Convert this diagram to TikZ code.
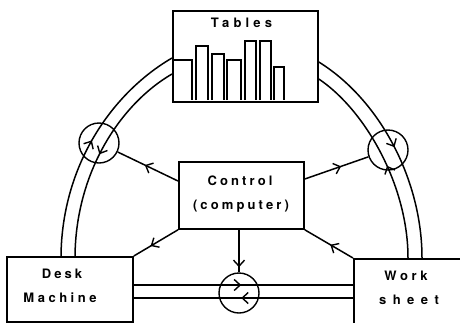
\documentclass[tikz,border=0pt]{standalone}
\usepackage{fontspec}
\setmainfont[LetterSpace=24]{TeX Gyre Heros}
\usetikzlibrary{arrows.meta,decorations.markings}
\tikzset{
  x=1pt,y=-1pt,
  box/.style={draw,line width=1.8pt,inner sep=0pt,rectangle,anchor=north west},
  lbl/.style={font=\fontsize{13}{13}\selectfont\bfseries,inner sep=0pt,align=center},
  wire/.style={line width=1.5pt},
  bar/.style={draw,line width=1.5pt},
  ring/.style={draw,circle,line width=1.4pt,minimum size=40pt,inner sep=0pt},
  tip/.style={decoration={markings,mark=at position #1 with {\arrow[line width=1.4pt]{Straight Barb[length=6pt,width=11pt]}}},postaction={decorate}},
  rtip/.style={decoration={markings,mark=at position #1 with {\arrowreversed[line width=1.4pt]{Straight Barb[length=6pt,width=11pt]}}},postaction={decorate}},
}
\begin{document}
\begin{tikzpicture}
\useasboundingbox (0,0) rectangle (460,322);
\begin{scope}
\clip (0,0) rectangle (460,322);
\node[box,minimum width=145pt,minimum height=91pt] (tables) at (172,10) {};
\node[box,minimum width=125pt,minimum height=67pt] (control) at (178,161) {};
\node[box,minimum width=126pt,minimum height=65pt] (desk) at (6,256) {};
\node[box,minimum width=120pt,minimum height=80pt] (work) at (353,258) {};
\end{scope}
\node[lbl] (tablesL) at (241.5,23) {\addfontfeature{LetterSpace=32}Tables};
\node[lbl] (controlL) at (240,181) {Control};
\node[lbl] (computerL) at (241,206) {(computer)};
\node[lbl] (deskL) at (62,274) {Desk};
\node[lbl] (machineL) at (60,298) {\addfontfeature{LetterSpace=27}Machine};
\node[lbl] (workL) at (406,276) {\addfontfeature{LetterSpace=28}Work};
\node[lbl] (sheetL) at (409,300) {\addfontfeature{LetterSpace=50}sheet};
% bars
\draw[bar] (172,60) -- (192,60) -- (192,100);
\draw[bar] (196,100) -- (196,46) -- (208,46) -- (208,100);
\draw[bar] (212,100) -- (212,54) -- (224,54) -- (224,100);
\draw[bar] (227,100) -- (227,60) -- (241,60) -- (241,100);
\draw[bar] (245,100) -- (245,41) -- (256,41) -- (256,100);
\draw[bar] (260,100) -- (260,41) -- (271,41) -- (271,100);
\draw[bar] (274,100) -- (274,67) -- (284,67) -- (284,100);
% rings
\node[ring] (ringL) at (99,143) {};
\node[ring] (ringR) at (388,150) {};
\node[ring] (ringB) at (239,293) {};
% coordinates on boxes
\coordinate (tl1) at (tables.west |- 0,58);
\coordinate (tl2) at (tables.west |- 0,74);
\coordinate (tr1) at (tables.east |- 0,62);
\coordinate (tr2) at (tables.east |- 0,79);
\coordinate (dk1) at (61,0 |- desk.north);
\coordinate (dk2) at (75,0 |- desk.north);
\coordinate (wk1) at (422,0 |- work.north);
\coordinate (wk2) at (408,0 |- work.north);
\coordinate (dh1) at (desk.east |- 0,285);
\coordinate (dh2) at (desk.east |- 0,298);
\coordinate (wh1) at (work.west |- 0,285);
\coordinate (wh2) at (work.west |- 0,298);
\draw[wire,rtip=0.49] (tl1) .. controls (112,93) and (62,165) .. (dk1);
\draw[wire,tip=0.51] (tl2) .. controls (122,103) and (76,170) .. (dk2);
\draw[wire,tip=0.5] (tr1) .. controls (380,100) and (422,180) .. (wk1);
\draw[wire,rtip=0.54] (tr2) .. controls (365,110) and (408,185) .. (wk2);
\draw[wire,tip=0.49] (dh1) -- (wh1);
\draw[wire,rtip=0.49] (dh2) -- (wh2);
% control links
\coordinate (cl) at (control.west |- 0,181);
\coordinate (cr) at (control.east |- 0,179);
\coordinate (cb) at (239,0 |- control.south);
\draw[wire,tip=0.55] (cl) -- (ringL);
\draw[wire,tip=0.57] (cr) -- (ringR);
\draw[wire,tip=0.88] (cb) -- (ringB.north);
\draw[wire,tip=0.47] (work.north west) -- (control.south east);
\draw[wire,tip=0.62] (control.south west) -- (desk.north east);
\end{tikzpicture}
\end{document}
